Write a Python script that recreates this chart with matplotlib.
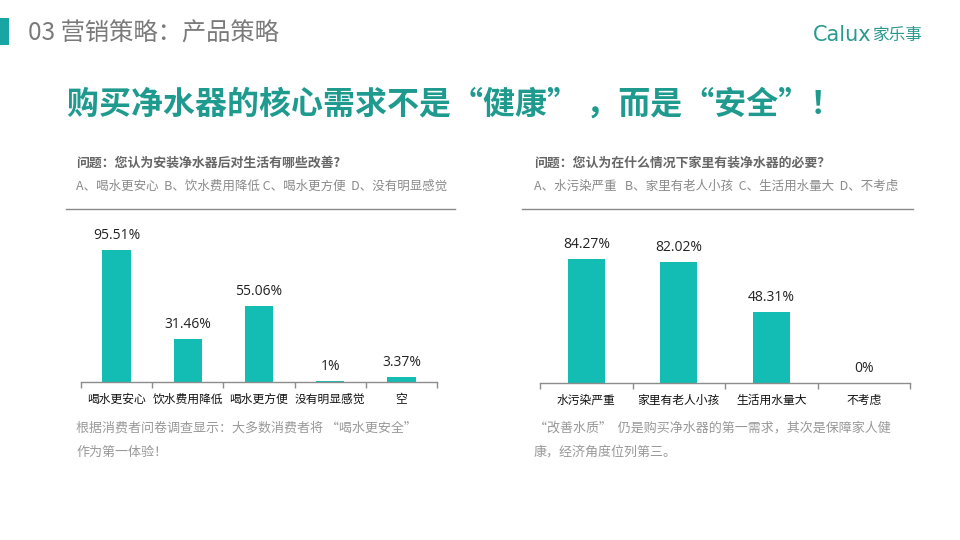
import matplotlib
matplotlib.use("Agg")
import matplotlib.pyplot as plt
from matplotlib.patches import Rectangle
from matplotlib.lines import Line2D

plt.rcParams['font.family'] = ['Noto Sans CJK SC', 'DejaVu Sans']

# ---- data ----
left_categories = ["喝水更安心", "饮水费用降低", "喝水更方便", "没有明显感觉", "空"]
left_values = [95.51, 31.46, 55.06, 1, 3.37]
left_labels = ["95.51%", "31.46%", "55.06%", "1%", "3.37%"]

right_categories = ["水污染严重", "家里有老人小孩", "生活用水量大", "不考虑"]
right_values = [84.27, 82.02, 48.31, 0]
right_labels = ["84.27%", "82.02%", "48.31%", "0%"]

page_title = "03 营销策略：产品策略"
headline = "购买净水器的核心需求不是“健康” ，而是“安全”！"
left_question = "问题：您认为安装净水器后对生活有哪些改善?"
left_options = "A、喝水更安心  B、饮水费用降低 C、喝水更方便  D、没有明显感觉"
right_question = "问题：您认为在什么情况下家里有装净水器的必要？"
right_options = "A、水污染严重   B、家里有老人小孩  C、生活用水量大  D、不考虑"
left_note = ["根据消费者问卷调查显示：大多数消费者将 “喝水更安全”", "作为第一体验！"]
right_note = ["“改善水质”  仍是购买净水器的第一需求，其次是保障家人健", "康，经济角度位列第三。"]

BAR = "#13BDB3"
TEAL = "#1E9A8E"

W, H = 960, 540
fig = plt.figure(figsize=(9.6, 5.4), dpi=100)
fig.patch.set_facecolor("white")

def fx(px):
    return px / W

def fy(py):
    return 1 - py / H

# title bar
fig.patches.append(Rectangle((0, fy(45)), fx(9), 27 / H, transform=fig.transFigure,
                             facecolor="#1AA5A5", edgecolor="none"))
fig.text(fx(28), fy(34), page_title, fontsize=17.5, color="#7A7A7A", va="center",
         ha="left", fontweight="light")
fig.text(fx(813), fy(35), "Calux", fontsize=15, color="#2A9A8E", va="center", ha="left",
         family=["DejaVu Sans"])
fig.text(fx(873), fy(35), "家乐事", fontsize=12, color="#2A9A8E", va="center", ha="left")

# headline
fig.text(fx(67), fy(105), headline, fontsize=23, color=TEAL, fontweight="bold",
         va="center", ha="left")

# questions
fig.text(fx(76), fy(163), left_question, fontsize=9.3, color="#666666", fontweight="bold",
         va="center", ha="left")
fig.text(fx(76), fy(186), left_options, fontsize=9, color="#8A8A8A", va="center", ha="left")
fig.text(fx(534), fy(163), right_question, fontsize=9.3, color="#666666", fontweight="bold",
         va="center", ha="left")
fig.text(fx(534), fy(186), right_options, fontsize=9, color="#8A8A8A", va="center", ha="left")

fig.lines.append(Line2D([fx(66), fx(455)], [fy(209), fy(209)], transform=fig.transFigure,
                        color="#888888", lw=1))
fig.lines.append(Line2D([fx(522), fx(913)], [fy(209), fy(209)], transform=fig.transFigure,
                        color="#888888", lw=1))

# notes
for i, line in enumerate(left_note):
    fig.text(fx(76), fy(428 + 24 * i), line, fontsize=9.4, color="#999999", va="center", ha="left")
for i, line in enumerate(right_note):
    fig.text(fx(534), fy(428 + 24 * i), line, fontsize=9.4, color="#999999", va="center", ha="left")


def draw(ax, cats, vals, labels, ymax):
    n = len(cats)
    x = list(range(n))
    bars = ax.bar(x, vals, width=0.4, color=BAR)
    ax.bar_label(bars, labels=labels, padding=5, fontsize=10, color="#222222",
                 family=["Open Sans", "DejaVu Sans"])
    ax.set_xlim(-0.5, n - 0.5)
    ax.set_ylim(0, ymax)
    for s in ["top", "right", "left"]:
        ax.spines[s].set_visible(False)
    ax.spines["bottom"].set_color("#8C8C8C")
    ax.spines["bottom"].set_linewidth(1)
    ax.set_yticks([])
    ax.set_xticks(x)
    ax.set_xticklabels(cats, fontsize=8.5, color="#111111")
    ax.tick_params(axis="x", which="major", length=0, pad=8)
    ax.set_xticks([i - 0.5 for i in range(n + 1)], minor=True)
    ax.tick_params(axis="x", which="minor", length=4, color="#8C8C8C", width=1, direction="out")
    ax.patch.set_alpha(0)


axL = fig.add_axes([fx(81), fy(382), fx(437 - 81), (382 - 220) / H])
draw(axL, left_categories, left_values, left_labels, 162 / 1.382)

axR = fig.add_axes([fx(540), fy(383), fx(910 - 540), (383 - 220) / H])
draw(axR, right_categories, right_values, right_labels, 163 / 1.471)

fig.savefig("out.png", dpi=100, facecolor="white")
